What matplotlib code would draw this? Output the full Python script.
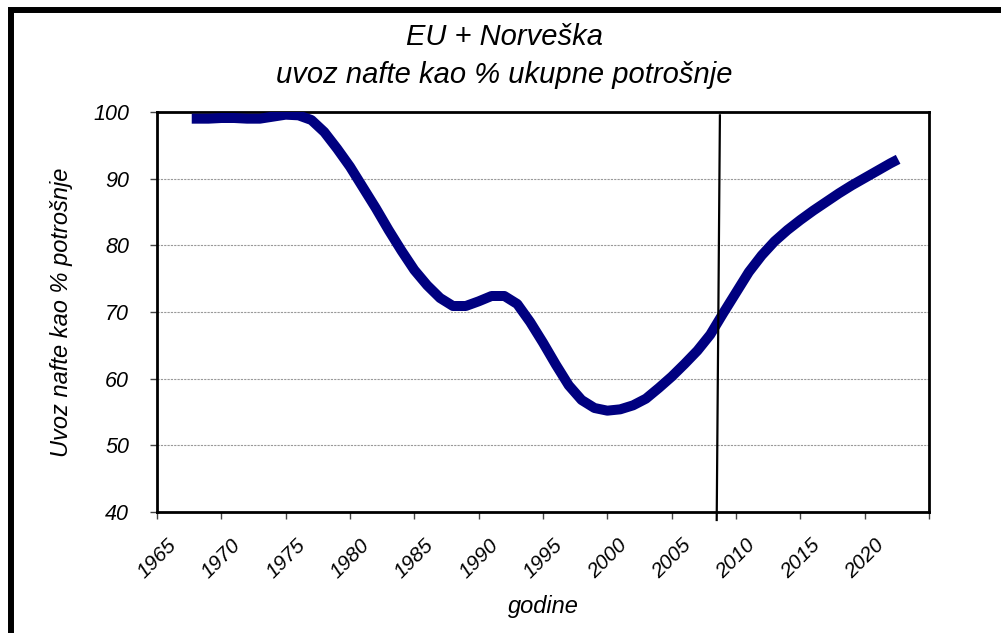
import numpy as np
from matplotlib import pyplot as plt
from matplotlib.patches import Rectangle

# uvoz nafte EU + Norveška, % ukupne potrošnje
godine = [1967.7, 1969, 1970, 1971, 1972, 1973, 1974, 1975, 1976, 1977,
          1978, 1979, 1980, 1981, 1982, 1983, 1984, 1985, 1986, 1987,
          1988, 1989, 1990, 1991, 1992, 1993, 1994, 1995, 1996, 1997,
          1998, 1999, 2000, 2001, 2002, 2003, 2004, 2005, 2006, 2007,
          2008, 2009, 2010, 2011, 2012, 2013, 2014, 2015, 2016, 2017,
          2018, 2019, 2020, 2021, 2022, 2022.6]
uvoz = [99.0, 99.0, 99.1, 99.1, 99.0, 99.0, 99.3, 99.6, 99.5, 98.8,
        97.0, 94.5, 91.8, 88.7, 85.6, 82.3, 79.2, 76.3, 74.0, 72.1,
        70.9, 70.9, 71.6, 72.4, 72.4, 71.2, 68.5, 65.4, 62.1, 59.0,
        56.8, 55.6, 55.2, 55.4, 56.0, 57.0, 58.6, 60.3, 62.2, 64.2,
        66.6, 69.8, 72.9, 76.0, 78.5, 80.6, 82.3, 83.8, 85.2, 86.5,
        87.8, 89.0, 90.1, 91.2, 92.3, 92.9]

# okomita linija (malo nagnuta)
granica_x = [2008.75, 2008.5]
granica_y = [99.5, 38.8]

xticks = list(range(1965, 2030, 5))
xlabels = [str(g) for g in xticks[:-1]] + [""]
yticks = list(range(40, 110, 10))

plt.rcParams['font.family'] = ['Liberation Sans', 'DejaVu Sans']

fig = plt.figure(figsize=(10.01, 6.33), dpi=100)
ax = fig.add_axes([157/1001, 1 - 512/633, (929 - 157)/1001, (512 - 112)/633])

ax.plot(godine, uvoz, color="#000080", lw=7.2, solid_capstyle="butt",
        solid_joinstyle="round", zorder=3)
ax.plot(granica_x, granica_y, color="black", lw=1.6,
        clip_on=False, zorder=4)

ax.set_xlim(1965, 2025)
ax.set_ylim(40, 100)
ax.set_xticks(xticks)
ax.set_xticklabels(xlabels, rotation=45, ha="center", fontsize=15,
                   style="italic")
ax.set_yticks(yticks)
ax.set_yticklabels([str(v) for v in yticks], fontsize=15.5, style="italic")
ax.tick_params(axis="x", direction="out", length=5, width=1, pad=12,
               color="#444444")
ax.tick_params(axis="y", direction="out", length=5, width=1, pad=15,
               color="#444444")
ax.yaxis.grid(True, color="#999999", lw=0.8, ls=(0, (2, 1)))
ax.set_axisbelow(True)
for s in ax.spines.values():
    s.set_linewidth(2)
    s.set_color("black")

fig.text(0.504, 1 - 45/633, "EU + Norveška", ha="center", va="baseline",
         fontsize=21, style="italic")
fig.text(0.504, 1 - 83/633, "uvoz nafte kao % ukupne potrošnje",
         ha="center", va="baseline", fontsize=21, style="italic")
fig.text(62/1001, 1 - 312/633, "Uvoz nafte kao % potrošnje", rotation=90,
         ha="center", va="center", fontsize=17, style="italic")
fig.text(543/1001, 1 - 607/633, "godine", ha="center", va="center",
         fontsize=17, style="italic")

# okvir oko cijele slike
fig.patches.append(Rectangle((11/1001, -1.5/633), 1.02, 1 - 8.5/633,
                             transform=fig.transFigure, fill=False,
                             ec="black", lw=4.3))

fig.savefig("out.png", dpi=100)
